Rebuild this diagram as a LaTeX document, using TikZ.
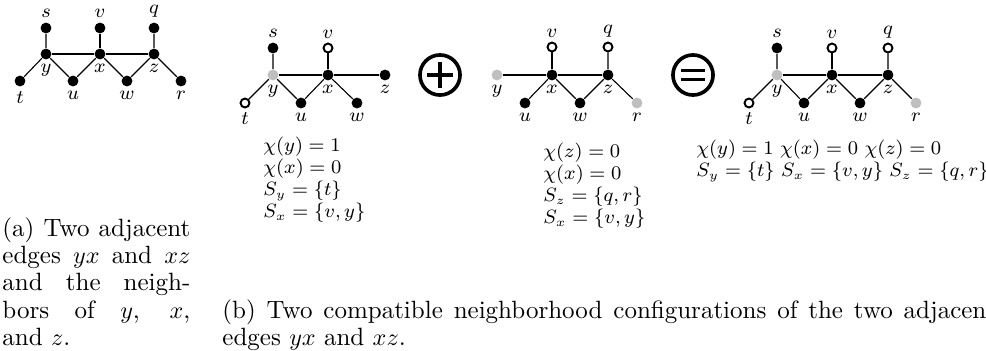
\documentclass[tikz,border=0pt]{standalone}
\usepackage{amsmath}
\tikzset{
  vtx/.style={circle, inner sep=0pt, minimum size=4.5pt, fill=black},
  vtxopen/.style={circle, inner sep=0pt, minimum size=3.7pt, draw=black, line width=0.8pt, fill=white},
  vtxgray/.style={circle, inner sep=0pt, minimum size=4.5pt, fill=gray!50},
  lbl/.style={font=\fontsize{8.2}{9.3}\selectfont, inner sep=1.6pt},
  lnk/.style={line width=0.45pt},
  conf/.style={font=\fontsize{7.7}{9.1}\selectfont, align=left, anchor=north west, inner sep=0pt},
  capt/.style={font=\fontsize{10.35}{11.3}\selectfont, align=justify, anchor=north west, inner sep=0pt},
  opsym/.style={circle, draw, line width=1.5pt, minimum size=16.6pt, inner sep=0pt},
  opbar/.style={line width=1.3pt}
}
\begin{document}
\begin{tikzpicture}[x=0.414pt, y=-0.414pt]
  \useasboundingbox (0,0) rectangle (986,350);

  % (a) the two edges yx, xz and their neighbours
  \node[vtx, label={[lbl]above:$s$}] (as) at (46,28) {};
  \node[vtx, label={[lbl]above:$v$}] (av) at (100,28) {};
  \node[vtx, label={[lbl]above:$q$}] (aq) at (154,28) {};
  \node[vtx, label={[lbl]below:$y$}] (ay) at (46,54) {};
  \node[vtx, label={[lbl]below:$x$}] (ax) at (100,54) {};
  \node[vtx, label={[lbl]below:$z$}] (az) at (154,54) {};
  \node[vtx, label={[lbl]below:$t$}] (at) at (20,81) {};
  \node[vtx, label={[lbl]below:$u$}] (au) at (73,81) {};
  \node[vtx, label={[lbl]below:$w$}] (aw) at (127,81) {};
  \node[vtx, label={[lbl]below:$r$}] (ar) at (181,81) {};
  \draw[lnk] (as) -- (ay) -- (at);
  \draw[lnk] (av) -- (ax);
  \draw[lnk] (aq) -- (az) -- (ar);
  \draw[lnk] (ay) -- (ax) -- (az);
  \draw[lnk] (ay) -- (au) -- (ax) -- (aw) -- (az);

  % (b) first configuration: edge yx
  \node[vtx, label={[lbl]above:$s$}] (bs) at (273,48) {};
  \node[vtxopen, label={[lbl]above:$v$}] (bv) at (328,48) {};
  \node[vtxgray, label={[lbl]below:$y$}] (by) at (273,75) {};
  \node[vtx, label={[lbl]below:$x$}] (bx) at (328,75) {};
  \node[vtx, label={[lbl]below:$z$}] (bz) at (385,75) {};
  \node[vtxopen, label={[lbl]below:$t$}] (bt) at (245,103) {};
  \node[vtx, label={[lbl]below:$u$}] (bu) at (301,103) {};
  \node[vtx, label={[lbl]below:$w$}] (bw) at (357,103) {};
  \draw[lnk] (bs) -- (by) -- (bt);
  \draw[lnk] (bv) -- (bx);
  \draw[lnk] (by) -- (bx) -- (bz);
  \draw[lnk] (by) -- (bu) -- (bx) -- (bw);
  \node[conf] (bcfg) at (263,137)
    {$\chi(y)=1$\\ $\chi(x)=0$\\ $S_y=\{t\}$\\ $S_x=\{v,y\}$};

  \node[opsym] (plus) at (440,75) {};
  \draw[opbar] ([xshift=-5.4pt]plus.center) -- ([xshift=5.4pt]plus.center);
  \draw[opbar] ([yshift=-5.4pt]plus.center) -- ([yshift=5.4pt]plus.center);

  % (b) second configuration: edge xz
  \node[vtxopen, label={[lbl]above:$v$}] (cv) at (552,47) {};
  \node[vtxopen, label={[lbl]above:$q$}] (cq) at (608,47) {};
  \node[vtxgray, label={[lbl]below:$y$}] (cy) at (497,75) {};
  \node[vtx, label={[lbl]below:$x$}] (cx) at (552,75) {};
  \node[vtx, label={[lbl]below:$z$}] (cz) at (608,75) {};
  \node[vtx, label={[lbl]below:$u$}] (cu) at (525,103) {};
  \node[vtx, label={[lbl]below:$w$}] (cw) at (580,103) {};
  \node[vtxgray, label={[lbl]below:$r$}] (cr) at (637,103) {};
  \draw[lnk] (cv) -- (cx);
  \draw[lnk] (cq) -- (cz) -- (cr);
  \draw[lnk] (cy) -- (cx) -- (cz);
  \draw[lnk] (cu) -- (cx) -- (cw) -- (cz);
  \node[conf] (ccfg) at (543,143)
    {$\chi(z)=0$\\ $\chi(x)=0$\\ $S_z=\{q,r\}$\\ $S_x=\{v,y\}$};

  \node[opsym] (eq) at (693,75) {};
  \draw[opbar] ([xshift=-5pt,yshift=1.9pt]eq.center) -- ([xshift=5pt,yshift=1.9pt]eq.center);
  \draw[opbar] ([xshift=-5pt,yshift=-1.9pt]eq.center) -- ([xshift=5pt,yshift=-1.9pt]eq.center);

  % (b) combined configuration
  \node[vtx, label={[lbl]above:$s$}] (ds) at (777,48) {};
  \node[vtxopen, label={[lbl]above:$v$}] (dv) at (832,48) {};
  \node[vtxopen, label={[lbl]above:$q$}] (dq) at (888,48) {};
  \node[vtxgray, label={[lbl]below:$y$}] (dy) at (777,75) {};
  \node[vtx, label={[lbl]below:$x$}] (dx) at (832,75) {};
  \node[vtx, label={[lbl]below:$z$}] (dz) at (888,75) {};
  \node[vtxopen, label={[lbl]below:$t$}] (dt) at (749,103) {};
  \node[vtx, label={[lbl]below:$u$}] (du) at (804,103) {};
  \node[vtx, label={[lbl]below:$w$}] (dw) at (860,103) {};
  \node[vtxgray, label={[lbl]below:$r$}] (dr) at (916,103) {};
  \draw[lnk] (ds) -- (dy) -- (dt);
  \draw[lnk] (dv) -- (dx);
  \draw[lnk] (dq) -- (dz) -- (dr);
  \draw[lnk] (dy) -- (dx) -- (dz);
  \draw[lnk] (dy) -- (du) -- (dx) -- (dw) -- (dz);
  \node[conf, font=\fontsize{7.55}{9.1}\selectfont] (dcfg) at (696,140)
    {$\chi(y)=1$ $\chi(x)=0$ $\chi(z)=0$\\ $S_y=\{t\}$ $S_x=\{v,y\}$ $S_z=\{q,r\}$};

  % captions
  \node[capt, text width=77.8pt] (capa) at (2,217)
    {(a) Two adjacent edges $yx$ and $xz$ and the neigh\-bors of $y$, $x$, and~$z$.};
  \node[capt, text width=320pt] (capb) at (222,299)
    {(b) Two compatible neighborhood configurations of the two adjacent edges $yx$ and $xz$.};
\end{tikzpicture}
\end{document}
